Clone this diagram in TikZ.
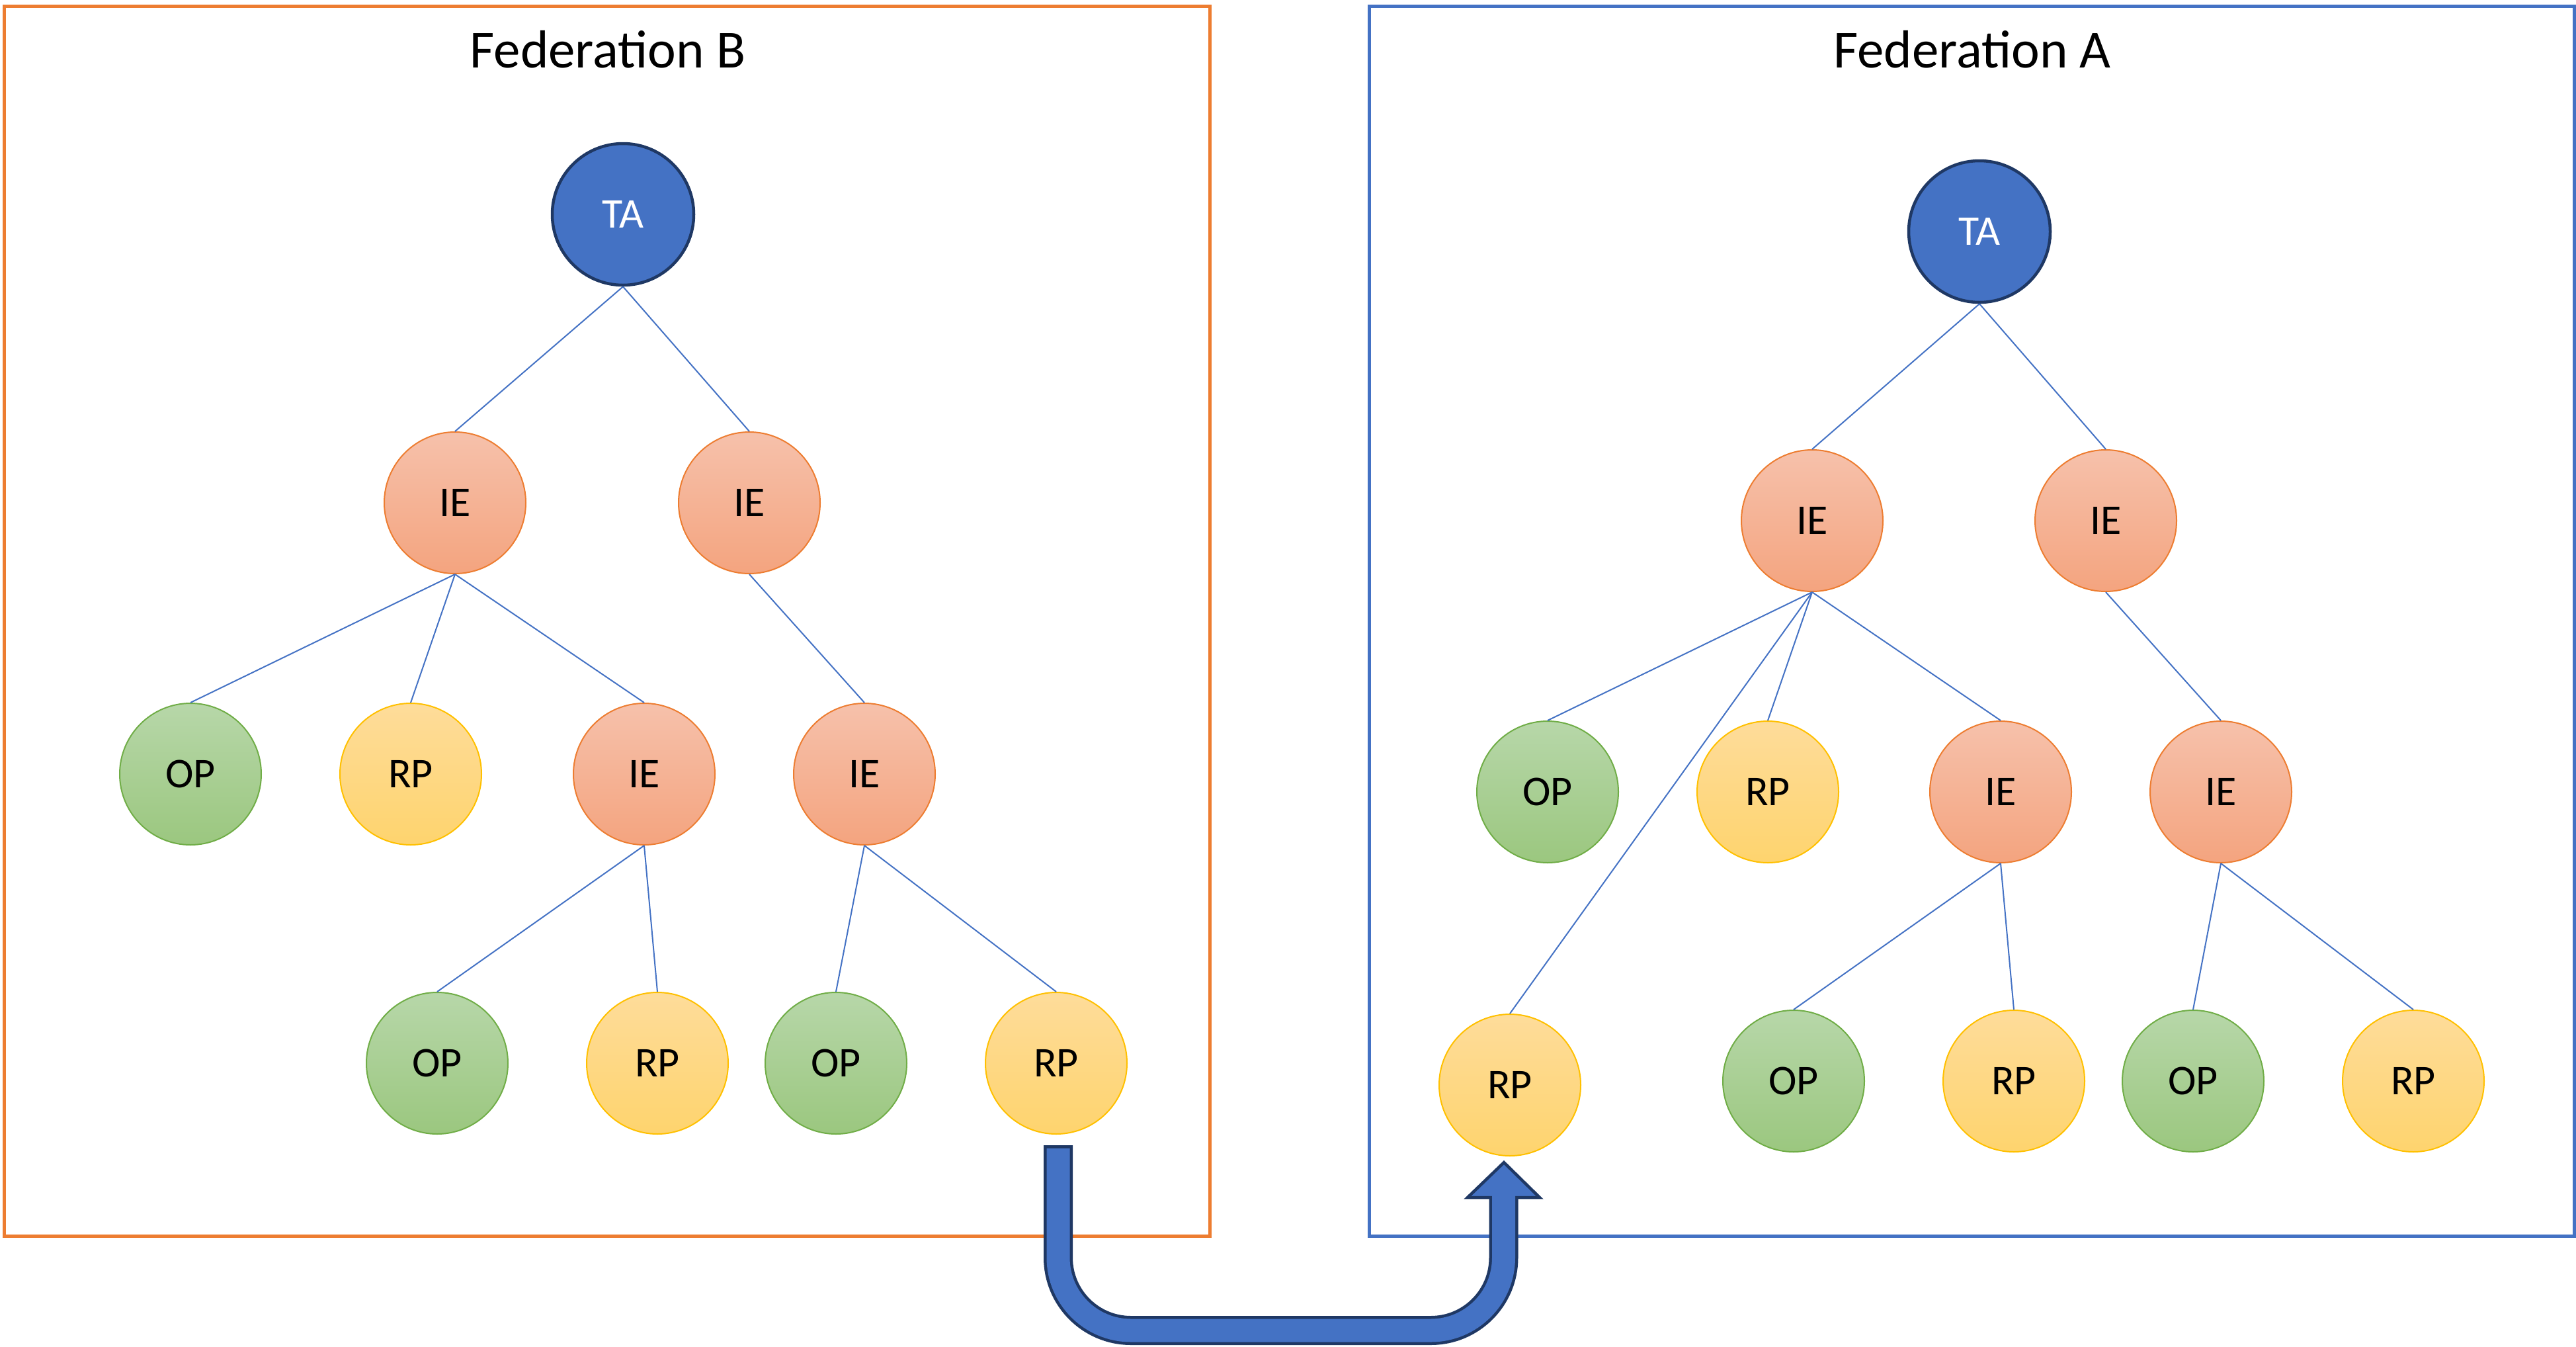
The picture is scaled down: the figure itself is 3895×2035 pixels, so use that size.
\documentclass[tikz,border=0pt]{standalone}
\usepackage{fontspec}
\setmainfont{Carlito}
\usetikzlibrary{calc}
\definecolor{fedorange}{HTML}{ED7D31}
\definecolor{fedblue}{HTML}{4472C4}
\definecolor{navy}{HTML}{1F3864}
\definecolor{ietop}{HTML}{F6C1AB}
\definecolor{iebot}{HTML}{F4A47F}
\definecolor{optop}{HTML}{B7D7A9}
\definecolor{opbot}{HTML}{9BC77F}
\definecolor{opline}{HTML}{70AD47}
\definecolor{rptop}{HTML}{FEDC9A}
\definecolor{rpbot}{HTML}{FED46E}
\definecolor{rpline}{HTML}{FFC000}
\begin{document}
\begin{tikzpicture}[x=1pt,y=-1pt,
  every node/.style={font=\fontsize{64}{76}\selectfont},
  ent/.style={circle, minimum size=214pt, inner sep=0pt, line width=2pt},
  ta/.style={ent, fill=fedblue, draw=navy, line width=4.5pt, text=white},
  ie/.style={ent, draw=fedorange, top color=ietop, bottom color=iebot},
  op/.style={ent, draw=opline, top color=optop, bottom color=opbot},
  rp/.style={ent, draw=rpline, top color=rptop, bottom color=rpbot},
  link/.style={draw=fedblue, line width=2pt},
  fedbox/.style={line width=5pt},
  title/.style={font=\fontsize{81}{97}\selectfont, anchor=base}
]
\useasboundingbox (0,0) rectangle (3895,2035);

% federation frames and titles
\draw[fedbox, draw=fedorange] (6,9.5) rectangle (1829,1868);
\draw[fedbox, draw=fedblue] (2070.5,9.5) rectangle (3892,1868);
\node[title] (titleB) at (919,102) {Federation B};
\node[title] (titleA) at (2982,102) {Federation A};

% Federation B
\node[ta] (bTA)  at (942,324)  {TA};
\node[ie] (bIE1) at (688,760)  {IE};
\node[ie] (bIE2) at (1133,760) {IE};
\node[op] (bOP1) at (288,1170) {OP};
\node[rp] (bRP1) at (621,1170) {RP};
\node[ie] (bIE3) at (974,1170) {IE};
\node[ie] (bIE4) at (1307,1170) {IE};
\node[op] (bOP2) at (661,1607) {OP};
\node[rp] (bRP2) at (994,1607) {RP};
\node[op] (bOP3) at (1264,1607) {OP};
\node[rp] (bRP3) at (1597,1607) {RP};

\draw[link] (bTA.south) -- (bIE1.north);
\draw[link] (bTA.south) -- (bIE2.north);
\draw[link] (bIE1.south) -- (bOP1.north);
\draw[link] (bIE1.south) -- (bRP1.north);
\draw[link] (bIE1.south) -- (bIE3.north);
\draw[link] (bIE2.south) -- (bIE4.north);
\draw[link] (bIE3.south) -- (bOP2.north);
\draw[link] (bIE3.south) -- (bRP2.north);
\draw[link] (bIE4.south) -- (bOP3.north);
\draw[link] (bIE4.south) -- (bRP3.north);

% Federation A
\node[ta] (aTA)  at (2993,350)  {TA};
\node[ie] (aIE1) at (2740,787)  {IE};
\node[ie] (aIE2) at (3184,787)  {IE};
\node[op] (aOP1) at (2340,1197) {OP};
\node[rp] (aRP1) at (2673,1197) {RP};
\node[ie] (aIE3) at (3025,1197) {IE};
\node[ie] (aIE4) at (3358,1197) {IE};
\node[rp] (aRP0) at (2283,1640) {RP};
\node[op] (aOP2) at (2712,1634) {OP};
\node[rp] (aRP2) at (3045,1634) {RP};
\node[op] (aOP3) at (3316,1634) {OP};
\node[rp] (aRP3) at (3649,1634) {RP};

\draw[link] (aTA.south) -- (aIE1.north);
\draw[link] (aTA.south) -- (aIE2.north);
\draw[link] (aIE1.south) -- (aOP1.north);
\draw[link] (aIE1.south) -- (aRP1.north);
\draw[link] (aIE1.south) -- (aIE3.north);
\draw[link] (aIE1.south) -- (aRP0.north);
\draw[link] (aIE2.south) -- (aIE4.north);
\draw[link] (aIE3.south) -- (aOP2.north);
\draw[link] (aIE3.south) -- (aRP2.north);
\draw[link] (aIE4.south) -- (aOP3.north);
\draw[link] (aIE4.south) -- (aRP3.north);

% U-shaped block arrow from the RP of B to the RP of A
\coordinate (arrS) at ($(bRP3.south)+(3,16)$);
\coordinate (arrT) at ($(aRP0.south)+(-9,9)$);
\coordinate (arrB) at (2273.5,1810);
\draw[line width=44pt, navy, rounded corners=110pt]
  (arrS) -- (arrS |- 0,2011) -- (arrB |- 0,2011) -- (2273.5,1812);
\filldraw[fill=fedblue, draw=navy, line width=4.5pt, line join=miter]
  (2219,1810) -- (arrT) -- (2328,1810) -- cycle;
\draw[line width=35pt, fedblue, rounded corners=110pt]
  ($(arrS)+(0,4.5)$) -- (arrS |- 0,2011) -- (arrB |- 0,2011) -- (2273.5,1805);
\end{tikzpicture}
\end{document}
